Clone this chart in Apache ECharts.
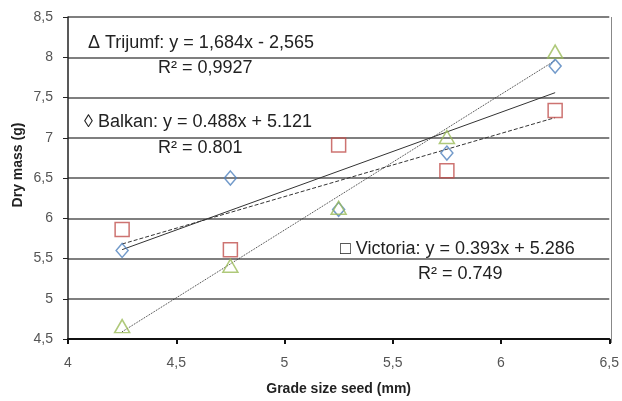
<!DOCTYPE html>
<html>
  <head>
    <meta charset="utf-8" />
    <script src="https://cdn.jsdelivr.net/npm/echarts/dist/echarts.min.js"></script>
  </head>
  <body style="margin:0;background:#fff;">
    <div id="chart" style="width: 622px; height: 401px;"></div>
    <script>
        // Data (seed grade size in mm, dry mass in g)
        var sizes = [4.25, 4.75, 5.25, 5.75, 6.25];
        var balkan = [5.60, 6.50, 6.11, 6.81, 7.89];
        var victoria = [5.86, 5.61, 6.91, 6.59, 7.34];
        var trijumf = [4.66, 5.41, 6.13, 7.01, 8.07];

        // Trend line end values (at first and last size)
        var trendX = [4.25, 6.25];
        var balkanTrend = [5.61, 7.56];
        var victoriaTrend = [5.68, 7.25];
        var trijumfTrend = [4.59, 7.96];

        function pairs(xs, ys) {
            return xs.map(function (x, i) { return [x, ys[i]]; });
        }
        function comma(v) {
            return String(v).replace('.', ',');
        }

        var chart = echarts.init(document.getElementById('chart'));

        function markers(name, data, symbol, size, color) {
            return {
                name: name,
                type: 'scatter',
                data: pairs(sizes, data),
                symbol: symbol,
                symbolSize: size,
                z: 5,
                itemStyle: { color: 'rgba(0,0,0,0)', borderColor: color, borderWidth: 1.5 }
            };
        }
        function trend(name, data, type) {
            return {
                name: name,
                type: 'line',
                data: pairs(trendX, data),
                showSymbol: false,
                silent: true,
                z: 3,
                lineStyle: { color: '#333', width: 1, type: type }
            };
        }
        function note(x, y, text) {
            return {
                type: 'text', z: 10,
                style: { x: x, y: y, text: text, verticalAlign: 'middle', font: '18px Liberation Sans', fill: '#222' }
            };
        }

        var labelFont = 'Liberation Sans';
        var option = {
            animation: false,
            grid: { left: 68, right: 10, top: 17, bottom: 58 },
            xAxis: {
                type: 'value',
                min: 4, max: 6.5, interval: 0.5,
                name: 'Grade size seed (mm)',
                nameLocation: 'middle',
                nameGap: 43,
                nameTextStyle: { fontFamily: labelFont, fontWeight: 'bold', fontSize: 14, color: '#222' },
                axisLine: { lineStyle: { color: '#111', width: 2 } },
                axisTick: { show: true, inside: false, length: 5, lineStyle: { color: '#111', width: 2 } },
                axisLabel: { formatter: comma, fontFamily: labelFont, fontSize: 14, color: '#555', margin: 17 },
                splitLine: { show: false }
            },
            yAxis: {
                type: 'value',
                min: 4.5, max: 8.5, interval: 0.5,
                axisLine: { show: true, lineStyle: { color: '#222', width: 1.5 } },
                axisTick: { show: true, length: 5, lineStyle: { color: '#222' } },
                axisLabel: { formatter: comma, fontFamily: labelFont, fontSize: 14, color: '#555', margin: 15 },
                splitLine: { show: true, lineStyle: { color: '#555', width: 1.5 } }
            },
            graphic: [
                { type: 'rect', shape: { x: 611, y: 17, width: 1, height: 326 }, style: { fill: '#888' }, z: 1 },
                {
                    type: 'text', z: 10, x: 18, y: 165, rotation: Math.PI / 2,
                    style: { text: 'Dry mass (g)', align: 'center', verticalAlign: 'middle', font: 'bold 14px Liberation Sans', fill: '#222' }
                },
                note(88, 43, '\u0394 Trijumf: y = 1,684x - 2,565'),
                note(158, 68, 'R\u00b2 = 0,9927'),
                note(84, 122, '\u25ca Balkan: y = 0.488x + 5.121'),
                note(158, 148, 'R\u00b2 = 0.801'),
                note(340, 249, '\u25a1 Victoria: y = 0.393x + 5.286'),
                note(418, 274, 'R\u00b2 = 0.749')
            ],
            series: [
                trend('Balkan trend', balkanTrend, 'solid'),
                trend('Victoria trend', victoriaTrend, 'dashed'),
                trend('Trijumf trend', trijumfTrend, 'dotted'),
                markers('Balkan', balkan, 'diamond', [12, 14], '#4F81BD'),
                markers('Victoria', victoria, 'rect', [14, 14], '#C0504D'),
                markers('Trijumf', trijumf, 'triangle', [15, 13], '#9BBB59')
            ]
        };

        chart.setOption(option);
    </script>
  </body>
</html>
